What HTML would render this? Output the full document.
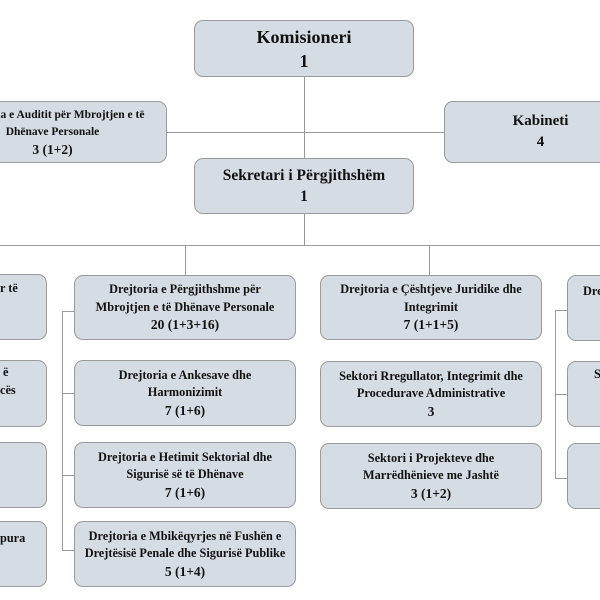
<!DOCTYPE html>
<html><head><meta charset="utf-8"><style>
html,body{margin:0;padding:0}
#w{width:600px;height:600px;background:#fff;position:relative;overflow:hidden;font-family:"Liberation Serif",serif;font-weight:bold;color:#111}
.b{position:absolute;background:#d6dce4;border:1.3px solid #9a9a9a;border-radius:9px;box-sizing:border-box;display:flex;flex-direction:column;justify-content:center;align-items:center;text-align:center;font-size:12.3px;line-height:17.5px;overflow:hidden;white-space:nowrap}
.n{font-size:13.5px}
.l{position:absolute;background:#9a9a9a}
.t{position:absolute;font-size:12.3px;line-height:17px;white-space:nowrap}
</style></head><body><div id="w">
<div class="l" style="left:304px;top:77px;width:1.3px;height:81px"></div>
<div class="l" style="left:167px;top:132px;width:277px;height:1.3px"></div>
<div class="l" style="left:304px;top:214px;width:1.3px;height:32px"></div>
<div class="l" style="left:0;top:245px;width:600px;height:1.3px"></div>
<div class="l" style="left:185px;top:245px;width:1.3px;height:30px"></div>
<div class="l" style="left:429px;top:245px;width:1.3px;height:30px"></div>
<div class="l" style="left:62px;top:311px;width:1.3px;height:240px"></div>
<div class="l" style="left:62px;top:311px;width:12px;height:1.3px"></div>
<div class="l" style="left:62px;top:393px;width:12px;height:1.3px"></div>
<div class="l" style="left:62px;top:475px;width:12px;height:1.3px"></div>
<div class="l" style="left:62px;top:550px;width:12px;height:1.3px"></div>
<div class="l" style="left:555px;top:310px;width:1.3px;height:169px"></div>
<div class="l" style="left:555px;top:310px;width:12px;height:1.3px"></div>
<div class="l" style="left:555px;top:394px;width:12px;height:1.3px"></div>
<div class="l" style="left:555px;top:478px;width:12px;height:1.3px"></div>

<div class="b" style="left:194px;top:20px;width:220px;height:57px;font-size:18px;line-height:24px"><div>Komisioneri</div><div>1</div></div>
<div class="b" style="left:-62px;top:101px;width:229px;height:62px;font-size:11.5px;line-height:17px"><div>Drejtoria e Auditit për Mbrojtjen e të</div><div>Dhënave Personale</div><div class="n">3 (1+2)</div></div>
<div class="b" style="left:444px;top:101px;width:156px;height:62px;font-size:15px;line-height:21px;border-right:none;border-radius:9px 0 0 9px"><div style="margin-left:36px">Kabineti</div><div style="margin-left:36px">4</div></div>
<div class="b" style="left:194px;top:158px;width:220px;height:56px;font-size:15.5px;line-height:21px"><div>Sekretari i Përgjithshëm</div><div>1</div></div>

<div class="b" style="left:0;top:274px;width:47px;height:66px;border-left:none;border-radius:0 9px 9px 0"></div>
<div class="b" style="left:0;top:360px;width:47px;height:67px;border-left:none;border-radius:0 9px 9px 0"></div>
<div class="b" style="left:0;top:442px;width:47px;height:66px;border-left:none;border-radius:0 9px 9px 0"></div>
<div class="b" style="left:0;top:521px;width:47px;height:66px;border-left:none;border-radius:0 9px 9px 0"></div>
<div class="t" style="left:0;top:280px">r të</div>
<div class="t" style="left:3px;top:364px">ë</div>
<div class="t" style="left:0;top:382px">cës</div>
<div class="t" style="left:0;top:530px">pura</div>

<div class="b" style="left:74px;top:275px;width:222px;height:65px"><div>Drejtoria e Përgjithshme për</div><div>Mbrojtjen e të Dhënave Personale</div><div class="n">20 (1+3+16)</div></div>
<div class="b" style="left:74px;top:360px;width:222px;height:66px"><div>Drejtoria e Ankesave dhe</div><div>Harmonizimit</div><div class="n">7 (1+6)</div></div>
<div class="b" style="left:74px;top:442px;width:222px;height:66px"><div>Drejtoria e Hetimit Sektorial dhe</div><div>Sigurisë së të Dhënave</div><div class="n">7 (1+6)</div></div>
<div class="b" style="left:74px;top:521px;width:222px;height:66px"><div>Drejtoria e Mbikëqyrjes në Fushën e</div><div>Drejtësisë Penale dhe Sigurisë Publike</div><div class="n">5 (1+4)</div></div>

<div class="b" style="left:320px;top:275px;width:222px;height:65px"><div>Drejtoria e Çështjeve Juridike dhe</div><div>Integrimit</div><div class="n">7 (1+1+5)</div></div>
<div class="b" style="left:320px;top:361px;width:222px;height:66px"><div>Sektori Rregullator, Integrimit dhe</div><div>Procedurave Administrative</div><div class="n">3</div></div>
<div class="b" style="left:320px;top:443px;width:222px;height:66px"><div>Sektori i Projekteve dhe</div><div>Marrëdhënieve me Jashtë</div><div class="n">3 (1+2)</div></div>

<div class="b" style="left:567px;top:275px;width:33px;height:66px;border-right:none;border-radius:9px 0 0 9px"></div>
<div class="b" style="left:567px;top:361px;width:33px;height:66px;border-right:none;border-radius:9px 0 0 9px"></div>
<div class="b" style="left:567px;top:443px;width:33px;height:66px;border-right:none;border-radius:9px 0 0 9px"></div>
<div class="t" style="left:583px;top:283px">Dre</div>
<div class="t" style="left:594px;top:366px">S</div>
</div></body></html>
